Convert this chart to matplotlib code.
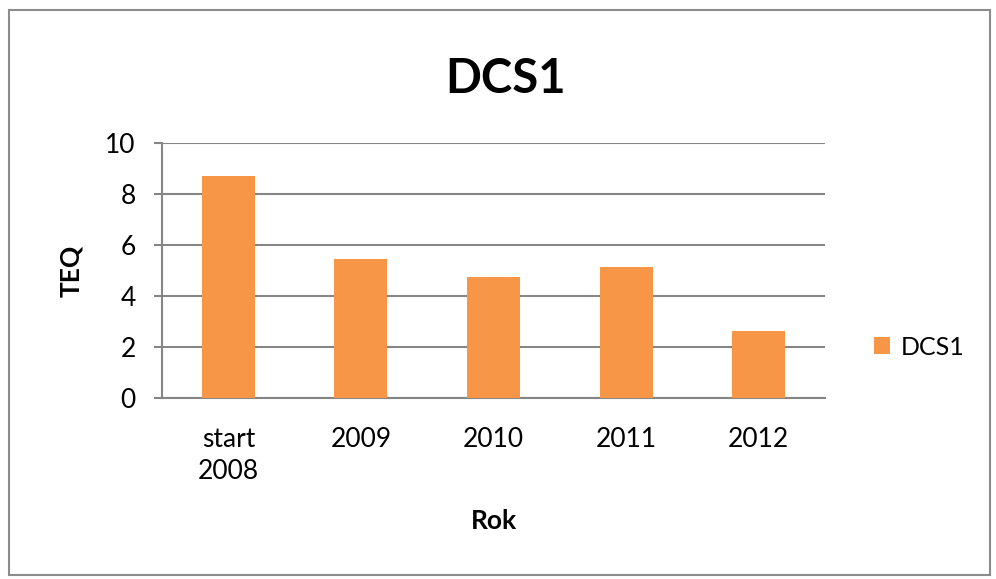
import matplotlib.pyplot as plt
from matplotlib.patches import Rectangle

categories = ["start\n2008", "2009", "2010", "2011", "2012"]
values = [8.72, 5.45, 4.76, 5.15, 2.63]
series_name = "DCS1"

plt.rcParams['font.family'] = ['Lato', 'DejaVu Sans']

fig = plt.figure(figsize=(9.96, 5.79), dpi=100)
ax = fig.add_axes([0.1627, 0.3126, 0.8283 - 0.1627, 0.753 - 0.3126])

x = range(len(categories))
ax.bar(x, values, width=0.4, color='#F79646', label=series_name, zorder=3)

ax.set_xlim(-0.5, len(categories) - 0.5)
ax.set_ylim(0, 10)
ax.set_yticks([0, 2, 4, 6, 8, 10])
ax.set_xticks(list(x))
ax.set_xticklabels(categories, fontsize=19, linespacing=1.35)
ax.tick_params(axis='y', labelsize=19, length=6, color='#868686', width=1.5, pad=13)
ax.tick_params(axis='x', length=0, pad=21)

ax.grid(axis='y', color='#868686', linewidth=1.5, zorder=0)
for s in ['top', 'right']:
    ax.spines[s].set_visible(False)
ax.spines['left'].set_color('#868686')
ax.spines['left'].set_linewidth(1.5)
ax.spines['bottom'].set_color('#868686')
ax.spines['bottom'].set_linewidth(1.5)

ax.set_ylabel("TEQ", fontsize=19, fontweight='bold', labelpad=16)
ax.set_xlabel("Rok", fontsize=19, fontweight='bold', labelpad=18)
fig.text(0.508, 0.864, "DCS1", fontsize=34, fontweight='bold', ha='center', va='center')

ax.legend(loc='center left', bbox_to_anchor=(1.04, 0.2), frameon=False, fontsize=18,
          handlelength=0.65, handleheight=0.65, handletextpad=0.4)

fig.patches.append(Rectangle((0.009, 0.007), 0.985, 0.975, transform=fig.transFigure,
                             fill=False, edgecolor='#8c8c8c', linewidth=1.5))

fig.savefig("out.png", dpi=100)
